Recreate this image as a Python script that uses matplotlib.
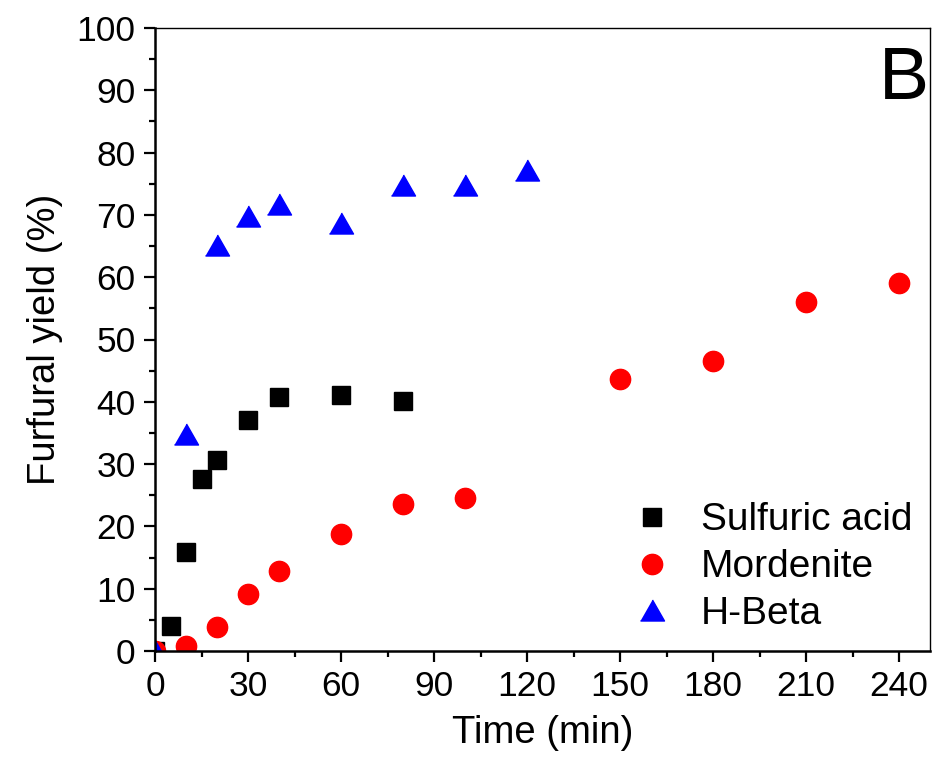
import matplotlib
matplotlib.use("Agg")
import matplotlib.pyplot as plt
from matplotlib.ticker import MultipleLocator
import numpy as np

plt.rcParams['font.family'] = ['Liberation Sans', 'DejaVu Sans']

# Data
sulf_t = [0, 5, 10, 15, 20, 30, 40, 60, 80]
sulf_y = [0, 4.0, 15.9, 27.6, 30.7, 37.0, 40.8, 41.1, 40.2]

mord_t = [0, 10, 20, 30, 40, 60, 80, 100, 150, 180, 210, 240]
mord_y = [0, 0.8, 3.8, 9.1, 12.8, 18.8, 23.6, 24.6, 43.6, 46.5, 56.0, 59.0]

beta_t = [0, 10, 20, 30, 40, 60, 80, 100, 120]
beta_y = [0, 34.9, 65.2, 69.8, 71.7, 68.7, 74.8, 74.8, 77.2]

labels = ["Sulfuric acid", "Mordenite", "H-Beta"]
xticks = [0, 30, 60, 90, 120, 150, 180, 210, 240]
yticks = list(range(0, 101, 10))

fig = plt.figure(figsize=(9.33, 7.69), dpi=100)
ax = fig.add_axes([155/933, (769-651)/769, (930-155)/933, (651-28)/769])

tri = [(-1, -0.875), (1, -0.875), (0, 0.875)]

ax.plot(sulf_t, sulf_y, linestyle='none', marker='s', markersize=12.7,
        color='black', label=labels[0])
ax.plot(mord_t, mord_y, linestyle='none', marker='o', markersize=14.6,
        color='red', label=labels[1])
ax.plot(beta_t, beta_y, linestyle='none', marker=tri, markersize=17.3,
        color='blue', label=labels[2])

ax.set_xlim(0, 250)
ax.set_ylim(0, 100)
ax.set_xticks(xticks)
ax.set_yticks(yticks)
ax.xaxis.set_minor_locator(MultipleLocator(15))
ax.yaxis.set_minor_locator(MultipleLocator(5))

ax.tick_params(which='major', direction='out', length=8, width=1.6,
               labelsize=25.5, pad=6, top=False, right=False)
ax.tick_params(which='minor', direction='out', length=4.5, width=1.6,
               top=False, right=False)

for s in ['left', 'bottom']:
    ax.spines[s].set_linewidth(1.8)
for s in ['top', 'right']:
    ax.spines[s].set_linewidth(1.0)

ax.set_xlabel("Time (min)", fontsize=27.5, labelpad=8)
ax.set_ylabel("Furfural yield (%)", fontsize=27.5, labelpad=10)

ax.text(0.999, 0.972, "B", transform=ax.transAxes, fontsize=54,
        ha='right', va='top')

leg = ax.legend(loc='lower right', bbox_to_anchor=(1.005, -0.004), frameon=False,
                fontsize=28, handlelength=1.0, handletextpad=0.75,
                labelspacing=0.28, borderaxespad=0.15)

fig.savefig("out.png", dpi=100)
